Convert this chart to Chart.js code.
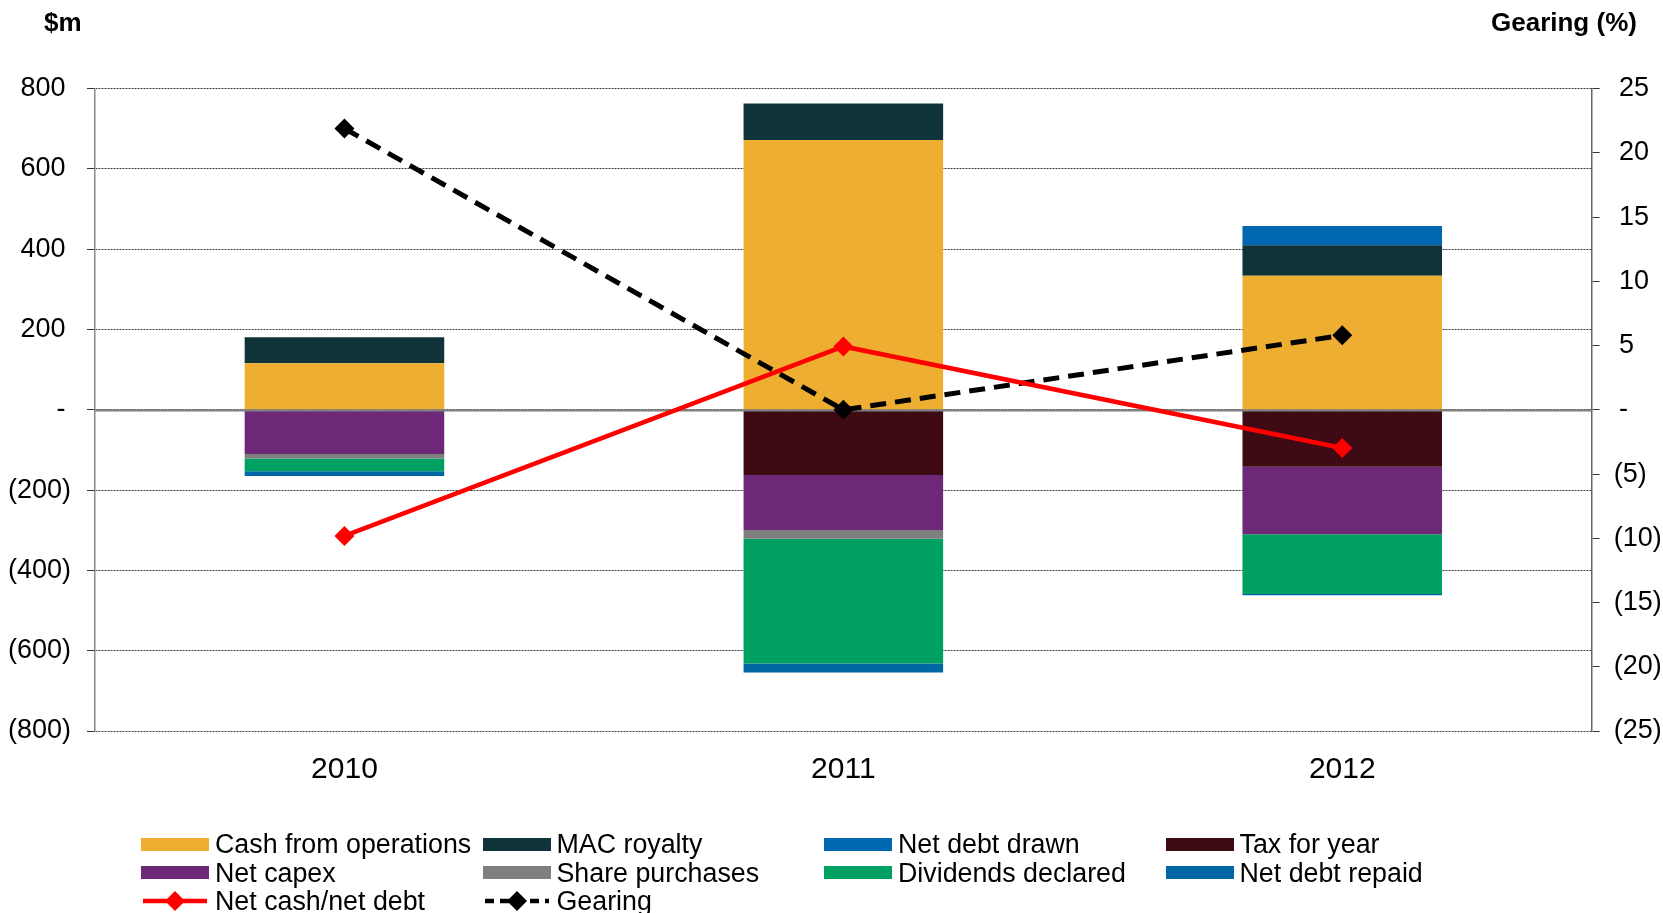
<!DOCTYPE html>
<html>
<head>
<meta charset="utf-8">
<script src="https://cdn.jsdelivr.net/npm/chart.js@4"></script>
<style>
  html, body { margin: 0; padding: 0; background: #fff; }
  body { font-family: "Liberation Sans", Arial, sans-serif; color: #000; }
  .wrap { position: relative; width: 1663px; height: 913px; overflow: hidden; }
  .wrap canvas { position: absolute; left: 0; top: 0; }
  .axis-title { position: absolute; top: 7px; font-weight: bold; font-size: 26px; }
  .legend { position: absolute; left: 141px; top: 830px; display: grid;
            grid-template-columns: repeat(4, 341.5px); line-height: 28.5px; font-size: 26.8px; }
  .legend .item { display: flex; align-items: center; white-space: nowrap; }
  .legend .box { display: inline-block; width: 68px; height: 13px; margin-right: 6px; }
  .legend svg { margin-right: 6px; }
</style>
</head>
<body>
<div class="wrap">
  <canvas class="my-chart" width="1663" height="913"></canvas>
  <div class="axis-title" style="left:44px">$m</div>
  <div class="axis-title" style="left:1491px">Gearing (%)</div>
  <div class="legend"></div>
</div>
<script>
const years = ["2010", "2011", "2012"];

// $m, positives stack up from zero, negatives stack down
const cashFromOps = [116, 672, 334];
const macRoyalty = [65, 91, 76];
const netDebtDrawn = [0, 0, 48];
const taxForYear = [0, -162, -142];
const netCapex = [-110, -137, -168];
const sharePurchases = [-11, -22, 0];
const dividends = [-32, -311, -149];
const netDebtRepaid = [-12, -22, -3];

const netCash = [-314, 158, -95];   // left axis
const gearing = [21.9, 0, 5.8];     // right axis, %

const leftTicks = [-800, -600, -400, -200, 0, 200, 400, 600, 800];
const rightTicks = [-25, -20, -15, -10, -5, 0, 5, 10, 15, 20, 25];

Chart.defaults.font.family = '"Liberation Sans", Arial, sans-serif';
Chart.defaults.font.size = 26;
Chart.defaults.color = "#000";

const barSets = [
  { label: "Cash from operations", data: cashFromOps, color: "#EDAE32" },
  { label: "MAC royalty", data: macRoyalty, color: "#0E3439" },
  { label: "Net debt drawn", data: netDebtDrawn, color: "#0068B1" },
  { label: "Tax for year", data: taxForYear, color: "#3E0B15" },
  { label: "Net capex", data: netCapex, color: "#6D2877" },
  { label: "Share purchases", data: sharePurchases, color: "#7F7F7F" },
  { label: "Dividends declared", data: dividends, color: "#00A062" },
  { label: "Net debt repaid", data: netDebtRepaid, color: "#0066A4" },
];

// order used in the legend grid (row by row)
const legendOrder = [
  "Cash from operations", "MAC royalty", "Net debt drawn", "Tax for year",
  "Net capex", "Share purchases", "Dividends declared", "Net debt repaid",
  "Net cash/net debt", "Gearing",
];

// accounting style: negatives in brackets, positives padded to line up with the bracket
const leftLabel = (v) => (v < 0 ? "(" + Math.abs(v) + ")" : (v === 0 ? "-" : String(v)) + "\u2009");
const rightLabel = (v) => (v < 0 ? "(" + Math.abs(v) + ")" : "\u2009" + (v === 0 ? "-" : String(v)));

// solid zero line, drawn over the bars but under the lines
let zeroDone = false;
const zeroLine = {
  id: "zeroLine",
  beforeDatasetsDraw() { zeroDone = false; },
  beforeDatasetDraw(chart, args) {
    if (zeroDone || args.meta.type !== "line") return;
    zeroDone = true;
    const { ctx, chartArea } = chart;
    const y = Math.round(chart.scales.y.getPixelForValue(0)) + 0.5;
    ctx.save();
    ctx.strokeStyle = "#808080";
    ctx.lineWidth = 2;
    ctx.beginPath();
    ctx.moveTo(chartArea.left, y);
    ctx.lineTo(chartArea.right, y);
    ctx.stroke();
    ctx.restore();
  },
};

const datasets = barSets.map((s) => ({
  type: "bar",
  label: s.label,
  data: s.data,
  backgroundColor: s.color,
  borderWidth: 0,
  yAxisID: "y",
  order: 1,
  barPercentage: 0.4,
  categoryPercentage: 1,
}));

datasets.push({
  type: "line",
  label: "Net cash/net debt",
  data: netCash,
  yAxisID: "y",
  borderColor: "#FF0000",
  backgroundColor: "#FF0000",
  borderWidth: 4.5,
  pointStyle: "rectRot",
  pointRadius: 10,
  pointBorderWidth: 0,
  order: 0,
});
datasets.push({
  type: "line",
  label: "Gearing",
  data: gearing,
  yAxisID: "y2",
  borderColor: "#000",
  backgroundColor: "#000",
  borderWidth: 5,
  borderDash: [16, 9],
  pointStyle: "rectRot",
  pointRadius: 10,
  pointBorderWidth: 0,
  order: 0,
});

const myChart = document.querySelector(".my-chart");
new Chart(myChart, {
  data: { labels: years, datasets: datasets },
  plugins: [zeroLine],
  options: {
    responsive: false,
    animation: false,
    layout: { padding: { top: 88.7, left: 0, right: 0, bottom: 0 } },
    plugins: { legend: { display: false }, tooltip: { enabled: false } },
    scales: {
      x: {
        stacked: true,
        grid: { display: false },
        border: { display: false },
        ticks: { padding: 13, font: { size: 30 } },
        afterFit: (scale) => { scale.height = 913 - 731; },
      },
      y: {
        stacked: true,
        position: "left",
        min: -800,
        max: 800,
        afterBuildTicks: (scale) => { scale.ticks = leftTicks.map((v) => ({ value: v })); },
        ticks: { padding: 16, callback: leftLabel, font: { size: 27 } },
        grid: { color: "#3a3a3a", lineWidth: 1, tickLength: 8, tickColor: "#333", tickWidth: 1 },
        border: { display: true, color: "#888", width: 1.5, dash: [2, 1] },
        afterFit: (scale) => { scale.width = 95; },
      },
      y2: {
        position: "right",
        min: -25,
        max: 25,
        afterBuildTicks: (scale) => { scale.ticks = rightTicks.map((v) => ({ value: v })); },
        ticks: { padding: 14, callback: rightLabel, font: { size: 27 } },
        grid: { drawOnChartArea: false, tickLength: 8, tickColor: "#333", tickWidth: 1 },
        border: { display: true, color: "#666", width: 1.5 },
        afterFit: (scale) => { scale.width = 1663 - 1591.7; },
      },
    },
  },
});

// legend grid built from the same datasets
const legendEl = document.querySelector(".legend");
legendOrder.forEach((name) => {
  const ds = datasets.find((d) => d.label === name);
  const item = document.createElement("div");
  item.className = "item";
  if (ds.type === "bar") {
    const box = document.createElement("span");
    box.className = "box";
    box.style.background = ds.backgroundColor;
    item.appendChild(box);
  } else {
    const dash = ds.borderDash ? 'stroke-dasharray="9 6"' : "";
    item.insertAdjacentHTML("beforeend",
      '<svg width="68" height="22" viewBox="0 0 68 22">' +
      '<line x1="2" y1="11" x2="66" y2="11" stroke="' + ds.borderColor + '" stroke-width="4.5" ' + dash + "/>" +
      '<polygon points="34,1 44,11 34,21 24,11" fill="' + ds.borderColor + '"/></svg>');
  }
  const txt = document.createElement("span");
  txt.textContent = name;
  item.appendChild(txt);
  legendEl.appendChild(item);
});
</script>
</body>
</html>
